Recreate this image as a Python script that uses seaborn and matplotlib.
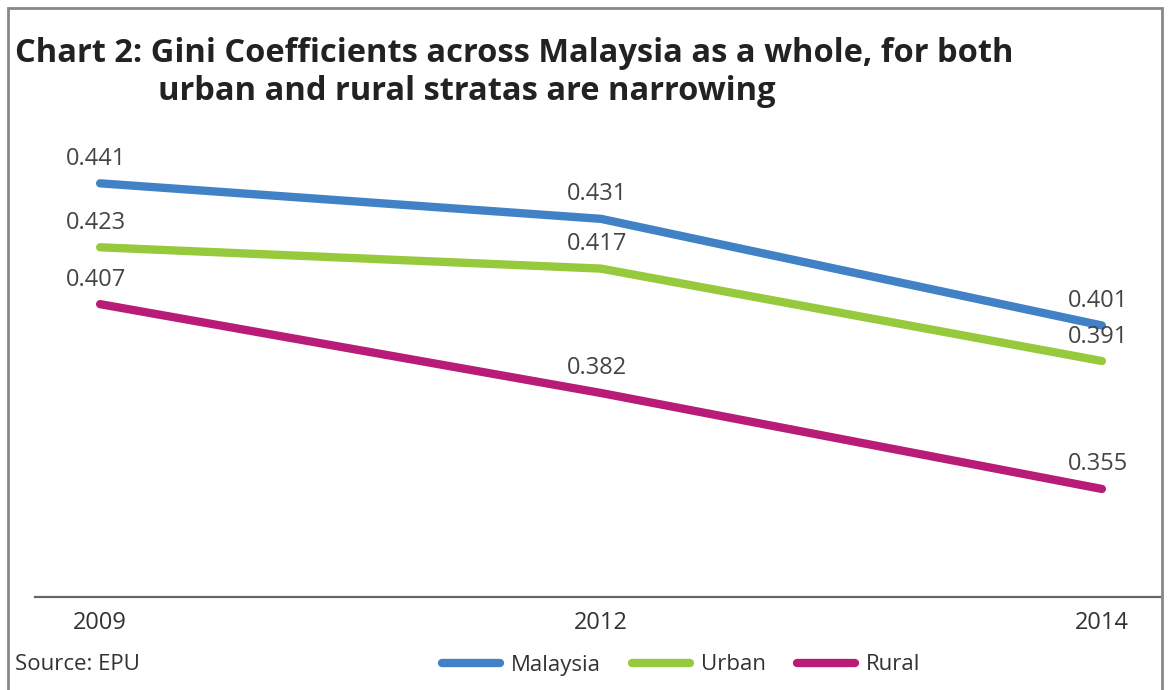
import matplotlib
matplotlib.use("Agg")
import matplotlib.pyplot as plt
from matplotlib.patches import Rectangle
from matplotlib.lines import Line2D
import pandas as pd
import seaborn as sns

years = ["2009", "2012", "2014"]
malaysia = [0.441, 0.431, 0.401]
urban = [0.423, 0.417, 0.391]
rural = [0.407, 0.382, 0.355]
series_names = ["Malaysia", "Urban", "Rural"]
colors = ["#4181c5", "#97c93d", "#b91c76"]

sns.set_theme(style="white")
plt.rcParams["font.family"] = ["Open Sans", "DejaVu Sans"]

df = pd.DataFrame({
    "year": years * 3,
    "gini": malaysia + urban + rural,
    "series": [s for s in series_names for _ in years],
})

fig = plt.figure(figsize=(11.74, 6.9), dpi=100)
ax = fig.add_axes([35 / 1174, 0.1348, (1160 - 35) / 1174, 0.826 - 0.1348])

sns.lineplot(data=df, x="year", y="gini", hue="series", hue_order=series_names,
             palette=colors, sort=False, linewidth=6, legend=False, ax=ax)
for line in ax.get_lines():
    line.set_solid_capstyle("round")

for vals in (malaysia, urban, rural):
    for i, v in enumerate(vals):
        ax.annotate(f"{v:.3f}", (i, v), xytext=(-3, 9), textcoords="offset points",
                    ha="center", va="bottom", fontsize=17, color="#444444")

ax.set_xlim(-0.13, 2.116)
ax.set_ylim(0.3246, 0.4588)
ax.set_xlabel("")
ax.set_ylabel("")
ax.set_yticks([])
ax.tick_params(axis="x", length=0, labelsize=17, labelcolor="#333333", pad=10)
for side in ("top", "right", "left"):
    ax.spines[side].set_visible(False)
ax.spines["bottom"].set_color("#666666")
ax.spines["bottom"].set_linewidth(1.6)

fig.text(15 / 1174, 1 - 62 / 690, "Chart 2: Gini Coefficients across Malaysia as a whole, for both",
         fontsize=23.5, fontweight="bold", color="#222222", ha="left", va="baseline")
fig.text(158 / 1174, 1 - 100 / 690, "urban and rural stratas are narrowing",
         fontsize=23.5, fontweight="bold", color="#222222", ha="left", va="baseline")

fig.text(15 / 1174, 1 - 665 / 690, "Source: EPU", fontsize=16, color="#333333",
         ha="left", va="center")

handles = [Line2D([], [], color=c, lw=6, solid_capstyle="round") for c in colors]
fig.legend(handles, series_names, loc="center", bbox_to_anchor=(0.58, 1 - 665 / 690),
           ncol=3, frameon=False, fontsize=16, handlelength=2.6, columnspacing=1.4,
           handletextpad=0.5, labelcolor="#333333")

fig.patches.append(Rectangle((8 / 1174, -0.1), (1162 - 8) / 1174, 1.1 - 8 / 690,
                             transform=fig.transFigure, fill=False,
                             edgecolor="#888888", linewidth=2, clip_on=False))

fig.savefig("out.png", dpi=100)
